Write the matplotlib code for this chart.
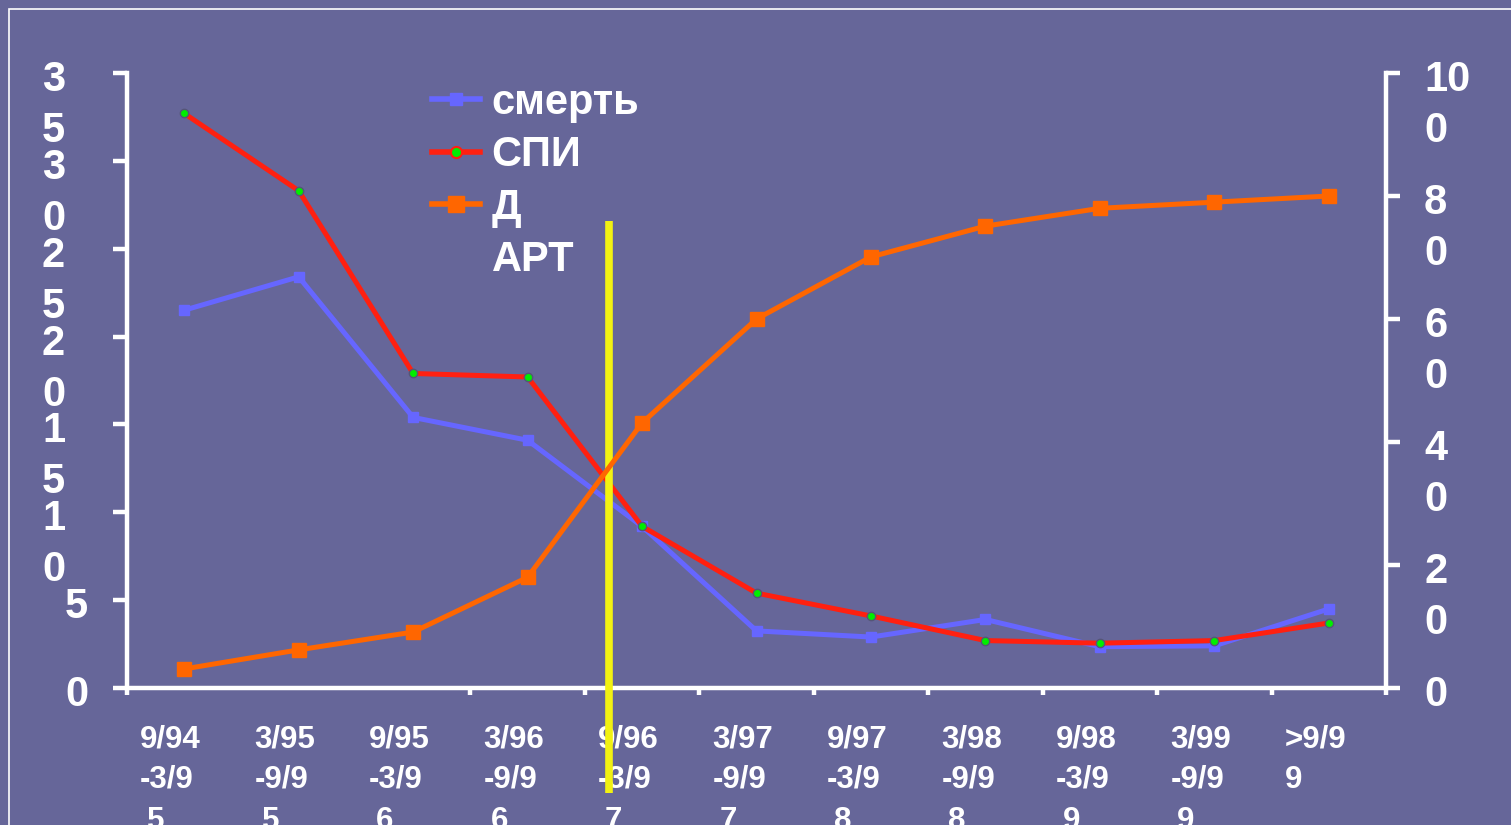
import matplotlib
matplotlib.use("Agg")
import matplotlib.pyplot as plt
import matplotlib.transforms as mtransforms
from matplotlib.lines import Line2D
from matplotlib.patches import Rectangle

plt.rcParams['font.family'] = ['Liberation Sans', 'DejaVu Sans']
plt.rcParams['font.weight'] = 'bold'

# периоды (подписи уже разбиты на строки, как на слайде)
periods = ["9/94\n-3/9\n5", "3/95\n-9/9\n5", "9/95\n-3/9\n6", "3/96\n-9/9\n6",
           "9/96\n-3/9\n7", "3/97\n-9/9\n7", "9/97\n-3/9\n8", "3/98\n-9/9\n8",
           "9/98\n-3/9\n9", "3/99\n-9/9\n9", ">9/9\n9"]

# левая ось
death = [21.5, 23.4, 15.4, 14.1, 9.2, 3.25, 2.9, 3.9, 2.35, 2.4, 4.5]
aids = [32.7, 28.3, 17.9, 17.7, 9.2, 5.4, 4.1, 2.7, 2.55, 2.7, 3.7]
# правая ось, %
haart = [3.1, 6.2, 9.1, 18.0, 43.1, 60.0, 70.1, 75.1, 78.0, 79.0, 80.0]

left_ticks = [0, 5, 10, 15, 20, 25, 30, 35]
left_labels = ["0", "5", "1\n0", "1\n5", "2\n0", "2\n5", "3\n0", "3\n5"]
right_ticks = [0, 20, 40, 60, 80, 100]
right_labels = ["0", "2\n0", "4\n0", "6\n0", "8\n0", "10\n0"]

haart_start = 3.71          # жёлтая линия
haart_span = (-6.0, 26.6)   # в единицах левой оси

BG = '#666699'
WHITE = 'white'

fig = plt.figure(figsize=(15.11, 8.25), dpi=100, facecolor=BG)
fig.patches.append(Rectangle((9 / 1511, -0.1), 1.2, (825 - 9) / 825 + 0.1,
                             transform=fig.transFigure, fill=False,
                             edgecolor=WHITE, linewidth=1.2))

ax = fig.add_axes([127 / 1511, 137 / 825, 1259 / 1511, 615 / 825])
ax.set_facecolor(BG)
ax2 = ax.twinx()

x = list(range(len(periods)))

ax.plot(x, death, color='#6666ff', lw=3.6, marker='s', ms=7,
        mfc='#6666ff', mec='#6666ff', zorder=3)
ax.plot(x, aids, color='#ff2010', lw=3.6, marker='o', ms=6,
        mfc='#00ee00', mec='#555577', mew=1, zorder=4)
ax2.plot(x, haart, color='#ff6600', lw=3.6, marker='s', ms=10,
         mfc='#ff6600', mec='#ff6600', zorder=3)

ax.set_xlim(-0.5, len(periods) - 0.5)
ax.set_ylim(0, 35)
ax2.set_ylim(0, 100)

# жёлтая вертикальная линия (начало ВААРТ)
ax.plot([haart_start, haart_start], haart_span, color='#f2f212', lw=5.5,
        solid_capstyle='butt', clip_on=False, zorder=10)

for a in (ax, ax2):
    a.spines['top'].set_visible(False)
    for s in a.spines.values():
        s.set_color(WHITE)
        s.set_linewidth(3.2)
ax.spines['right'].set_visible(False)
ax2.spines['left'].set_visible(False)
ax2.spines['bottom'].set_visible(False)

xt = [-0.5] + [i + 0.5 for i in range(2, len(periods))]
ax.set_xticks(xt)
ax.set_xticklabels([])
ax.tick_params(axis='x', length=5, width=3.2, color=WHITE, direction='out')
ax.set_yticks(left_ticks)
ax.set_yticklabels([])
ax.tick_params(axis='y', length=10, width=3.2, color=WHITE, direction='out')
ax2.set_yticks(right_ticks)
ax2.set_yticklabels([])
ax2.tick_params(axis='y', length=10, width=3.2, color=WHITE, direction='out')

# подписи делений, по строкам
bl = mtransforms.blended_transform_factory(ax.transAxes, ax.transData)
for v, lab in zip(left_ticks, left_labels):
    lines = lab.split("\n")
    dx = -62 if len(lines) > 1 else -39
    for k, ln in enumerate(lines):
        tr = mtransforms.offset_copy(bl, fig, x=dx, y=-18 - 51 * k, units='dots')
        ax.text(0, v, ln, transform=tr, ha='right', va='baseline',
                color=WHITE, fontsize=30, fontweight='bold')

br = mtransforms.blended_transform_factory(ax2.transAxes, ax2.transData)
for v, lab in zip(right_ticks, right_labels):
    for k, ln in enumerate(lab.split("\n")):
        tr = mtransforms.offset_copy(br, fig, x=38, y=-18 - 51 * k, units='dots')
        ax2.text(1, v, ln, transform=tr, ha='left', va='baseline',
                 color=WHITE, fontsize=30, fontweight='bold')

bx = mtransforms.blended_transform_factory(ax.transData, ax.transAxes)
for i, lab in enumerate(periods):
    for k, ln in enumerate(lab.split("\n")):
        dx = -37 if k == 2 else -44
        tr = mtransforms.offset_copy(bx, fig, x=dx, y=-59 - 41 * k, units='dots')
        ax.text(i, 0, ln, transform=tr, ha='left', va='baseline',
                color=WHITE, fontsize=22.5, fontweight='bold', clip_on=False)

handles = [
    Line2D([], [], color='#6666ff', lw=4, marker='s', ms=9, mfc='#6666ff', mec='#6666ff'),
    Line2D([], [], color='#ff2010', lw=4, marker='o', ms=8, mfc='#00ee00', mec='#ff2010', mew=1.5),
    Line2D([], [], color='#ff6600', lw=4, marker='s', ms=11, mfc='#ff6600', mec='#ff6600'),
    Line2D([], [], alpha=0),
]
leg = ax2.legend(handles, ["смерть", "СПИ", "Д", "АРТ"], loc='upper left',
                 bbox_to_anchor=(305 / 1259, 0.984), frameon=False,
                 fontsize=30, handlelength=1.15, handletextpad=0.28,
                 labelspacing=0.3, borderpad=0, borderaxespad=0)
for t in leg.get_texts():
    t.set_color(WHITE)
    t.set_fontweight('bold')

fig.savefig("out.png", dpi=100, facecolor=BG)
